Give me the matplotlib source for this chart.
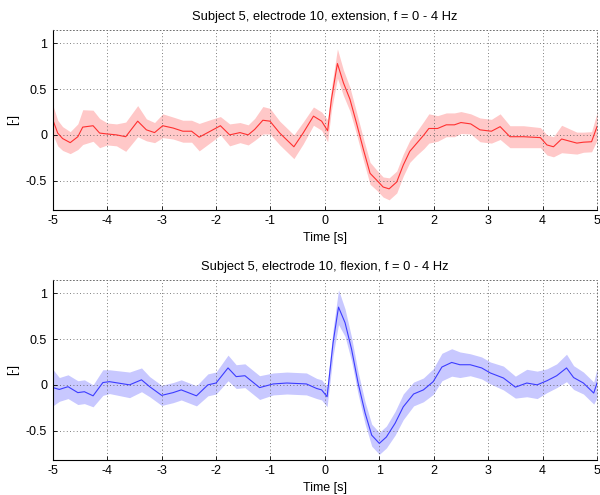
import matplotlib
matplotlib.use("Agg")
import matplotlib.pyplot as plt

# extension (top panel): time [s], mean, half width of the band
t_ext = [-5.0, -4.91, -4.82, -4.68, -4.54, -4.45, -4.26, -4.14, -4.0, -3.83,
         -3.66, -3.44, -3.28, -3.13, -2.98, -2.79, -2.61, -2.45, -2.31, -2.06,
         -1.92, -1.75, -1.56, -1.41, -1.29, -1.14, -1.01, -0.83, -0.57, -0.40,
         -0.21, -0.06, 0.05, 0.12, 0.23, 0.34, 0.46, 0.58, 0.71, 0.83,
         0.96, 1.07, 1.18, 1.32, 1.44, 1.56, 1.69, 1.82, 1.91, 2.07,
         2.23, 2.38, 2.50, 2.68, 2.85, 3.06, 3.22, 3.40, 3.65, 3.96,
         4.08, 4.20, 4.35, 4.63, 4.75, 4.90, 5.0]
m_ext = [0.165, 0.02, -0.04, -0.085, -0.02, 0.085, 0.10, 0.02, 0.01, 0.0,
         -0.02, 0.15, 0.055, 0.025, 0.10, 0.075, 0.04, 0.04, -0.025, 0.055,
         0.10, 0.0, 0.025, 0.0, 0.06, 0.16, 0.15, 0.02, -0.13, 0.02,
         0.205, 0.15, 0.045, 0.39, 0.78, 0.57, 0.39, 0.13, -0.165, -0.42,
         -0.50, -0.57, -0.59, -0.515, -0.33, -0.18, -0.09, 0.0, 0.07, 0.07,
         0.11, 0.11, 0.135, 0.12, 0.055, 0.04, 0.09, -0.02, -0.02, -0.03,
         -0.11, -0.13, -0.045, -0.09, -0.08, -0.075, 0.09]
hw_ext = [0.16, 0.14, 0.13, 0.12, 0.14, 0.19, 0.17, 0.16, 0.12, 0.12,
          0.16, 0.17, 0.12, 0.11, 0.13, 0.12, 0.12, 0.12, 0.15, 0.12,
          0.10, 0.12, 0.11, 0.11, 0.12, 0.15, 0.14, 0.13, 0.13, 0.12,
          0.10, 0.10, 0.12, 0.12, 0.16, 0.14, 0.13, 0.12, 0.12, 0.12,
          0.11, 0.11, 0.12, 0.12, 0.12, 0.12, 0.13, 0.15, 0.16, 0.14,
          0.13, 0.13, 0.12, 0.11, 0.13, 0.13, 0.14, 0.12, 0.12, 0.11,
          0.11, 0.11, 0.15, 0.12, 0.11, 0.11, 0.15]

# flexion (bottom panel)
t_flex = [-5.0, -4.88, -4.72, -4.54, -4.42, -4.26, -4.08, -3.96, -3.59, -3.37,
          -3.22, -3.0, -2.79, -2.64, -2.36, -2.15, -2.0, -1.78, -1.63, -1.47,
          -1.20, -0.95, -0.70, -0.34, -0.15, -0.06, 0.04, 0.15, 0.25, 0.37,
          0.49, 0.61, 0.74, 0.86, 1.0, 1.13, 1.29, 1.44, 1.63, 1.81,
          1.99, 2.15, 2.33, 2.48, 2.67, 2.88, 3.04, 3.28, 3.50, 3.71,
          3.90, 4.08, 4.26, 4.44, 4.57, 4.75, 4.94, 5.0]
m_flex = [-0.03, -0.05, -0.02, -0.085, -0.075, -0.12, 0.025, 0.035, 0.0, 0.055,
          -0.02, -0.115, -0.085, -0.055, -0.12, 0.0, 0.02, 0.185, 0.09, 0.10,
          -0.03, 0.01, 0.02, 0.01, -0.04, -0.055, -0.13, 0.46, 0.85, 0.68,
          0.39, 0.02, -0.31, -0.55, -0.64, -0.57, -0.42, -0.24, -0.10, -0.055,
          0.035, 0.195, 0.245, 0.22, 0.22, 0.185, 0.13, 0.075, -0.025, 0.02,
          0.0, 0.045, 0.10, 0.185, 0.08, 0.02, -0.09, 0.02]
hw_flex = [0.20, 0.13, 0.13, 0.13, 0.13, 0.12, 0.14, 0.13, 0.14, 0.13,
           0.11, 0.11, 0.11, 0.11, 0.11, 0.12, 0.12, 0.14, 0.13, 0.13,
           0.13, 0.12, 0.12, 0.12, 0.11, 0.11, 0.11, 0.14, 0.19, 0.15,
           0.13, 0.12, 0.12, 0.12, 0.12, 0.12, 0.13, 0.14, 0.13, 0.13,
           0.14, 0.15, 0.15, 0.14, 0.12, 0.12, 0.12, 0.13, 0.12, 0.15,
           0.15, 0.13, 0.13, 0.15, 0.13, 0.12, 0.12, 0.16]

titulos = ["Subject 5, electrode 10, extension, f = 0 - 4 Hz",
           "Subject 5, electrode 10, flexion, f = 0 - 4 Hz"]
xticks = [-5, -4, -3, -2, -1, 0, 1, 2, 3, 4, 5]
yticks = [-0.5, 0, 0.5, 1]

plt.rcParams['font.family'] = ['Liberation Sans', 'DejaVu Sans']

fig = plt.figure(figsize=(6.0, 4.95), dpi=100)
ax1 = fig.add_axes([0.088, 0.576, 0.907, 0.364])
ax2 = fig.add_axes([0.088, 0.071, 0.907, 0.364])

paineis = [
    (ax1, t_ext, m_ext, hw_ext, '#ffc8c8', '#ff3030'),
    (ax2, t_flex, m_flex, hw_flex, '#c8c8ff', '#3c3cff'),
]

for (ax, t, m, hw, cor_banda, cor_linha), titulo in zip(paineis, titulos):
    sup = [a + b for a, b in zip(m, hw)]
    inf = [a - b for a, b in zip(m, hw)]
    ax.fill_between(t, inf, sup, color=cor_banda, linewidth=0, zorder=1)
    ax.plot(t, m, color=cor_linha, linewidth=0.8, zorder=2)

    ax.set_xlim(-5, 5)
    ax.set_ylim(-0.82, 1.15)
    ax.set_xticks(xticks)
    ax.set_xticklabels([str(v) for v in xticks])
    ax.set_yticks(yticks)
    ax.set_yticklabels(['-0.5', '0', '0.5', '1'])
    ax.tick_params(direction='in', length=3, width=0.6, labelsize=9, pad=4,
                   top=False, right=False)
    ax.grid(True, linestyle=(0, (1, 3)), color='#555555', linewidth=0.6)
    for lado in ['top', 'right']:
        ax.spines[lado].set_linestyle((0, (1, 3)))
        ax.spines[lado].set_color('#555555')
        ax.spines[lado].set_linewidth(0.6)
    for lado in ['left', 'bottom']:
        ax.spines[lado].set_linewidth(0.8)
    ax.set_title(titulo, fontsize=9.3, pad=7)
    ax.set_xlabel('Time [s]', fontsize=9, labelpad=3)
    ax.set_ylabel('[-]', fontsize=9, labelpad=5)

plt.savefig("out.png", dpi=100)
